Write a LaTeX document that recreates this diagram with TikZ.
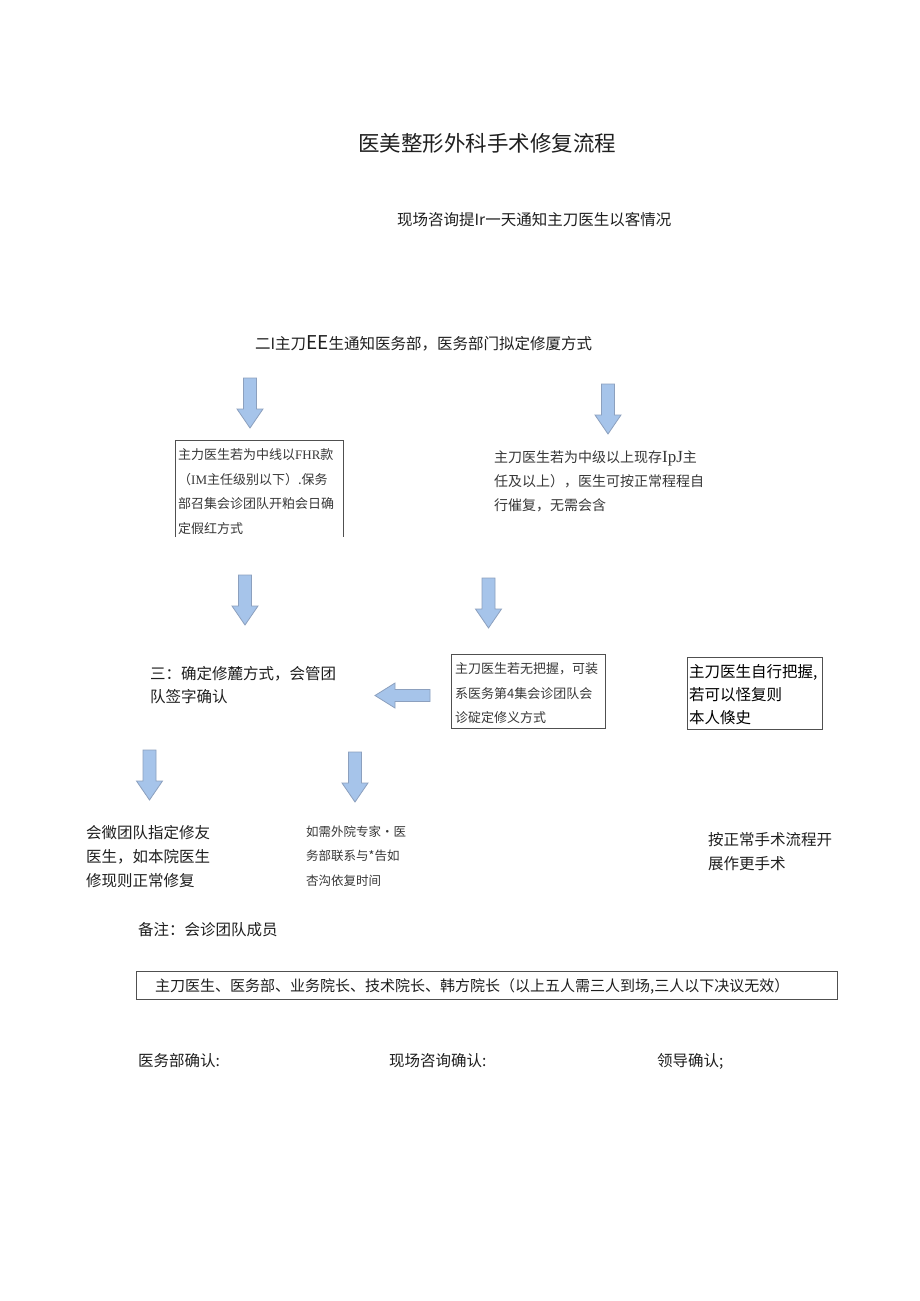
\documentclass[tikz,border=0pt]{standalone}
\usepackage{fontspec}
\setmainfont{Noto Sans CJK SC}
\newfontfamily\latinserif{Liberation Serif}
\usetikzlibrary{positioning}
\definecolor{arrowblue}{RGB}{166,196,234}
\definecolor{arrowedge}{RGB}{140,160,190}
\definecolor{boxline}{RGB}{80,80,80}
\definecolor{softtext}{RGB}{55,55,55}
\tikzset{
	bigtext/.style={inner sep=0pt, anchor=north west, text=black!88, align=left, font=\fontsize{15.5}{23.5}\selectfont},
	smalltext/.style={inner sep=0pt, anchor=north west, text=softtext, align=left, font=\fontsize{13}{24.5}\selectfont},
	downblk/.pic={\draw[arrowedge, fill=arrowblue, line width=0.8pt] (-6.5,0) -- (-6.5,31) -- (-13,31) -- (0,50) -- (13,31) -- (6.5,31) -- (6.5,0) -- cycle;},
	leftblk/.pic={\draw[arrowedge, fill=arrowblue, line width=0.8pt] (0,-6) -- (-35,-6) -- (-35,-12.5) -- (-55,0) -- (-35,12.5) -- (-35,6) -- (0,6) -- cycle;},
}

\begin{document}
\begin{tikzpicture}[x=1pt, y=-1pt]
			%%%%% START %%%%%
			
			\useasboundingbox[fill=white] (0,0) rectangle (920,1301);
			
			\node[bigtext, anchor=west, font=\fontsize{21.5}{26}\selectfont] (title) at (358,143) {医美整形外科手术修复流程};
			
			\node[bigtext, anchor=west] (consult) at (397,220) {现场咨询提Ir一天通知主刀医生以客情况};
			\node[bigtext, anchor=west] (notify) at (255,343) {二I主刀{\fontsize{19}{23}\selectfont EE}生通知医务部，医务部门拟定修厦方式};
			
			\pic at (250,378) {downblk};
			\pic at (608,384) {downblk};
			
			\draw[boxline, line width=0.7pt] (175,537) -- (175,440) -- (343,440) -- (343,537);
			\node[smalltext] (lowcase) at (178,448.5) {主力医生若为中线以{\latinserif FHR}款\\（{\latinserif IM}主任级别以下）.保务\\部召集会诊团队开粕会日确\\定假红方式};
			\node[smalltext, font=\fontsize{14}{24}\selectfont] (highcase) at (494,451) {主刀医生若为中级以上现存{\latinserif\fontsize{17}{24}\selectfont IpJ}主\\任及以上），医生可按正常程程自\\行催复，无需会含};
			
			\pic at (245,575) {downblk};
			\pic at (488.5,578) {downblk};
			
			\node[bigtext, font=\fontsize{15.5}{23}\selectfont] (decide) at (150,666.5) {三：确定修麓方式，会管团\\队签字确认};
			\pic at (430,695.5) {leftblk};
			
			\draw[boxline, line width=0.7pt] (451,654) rectangle (605,728);
			\node[smalltext] (unsure) at (455,662.5) {主刀医生若无把握，可装\\系医务第4集会诊团队会\\诊碇定修义方式};
			
			\draw[boxline, line width=0.7pt] (687,657) rectangle (822,729);
			\node[bigtext, text=black, font=\fontsize{15.5}{23}\selectfont] (self) at (689,664.5) {主刀医生自行把握,\\若可以怪复则\\本人倏史};
			
			\pic at (149.5,750) {downblk};
			\pic at (355,752) {downblk};
			
			\node[bigtext, font=\fontsize{15.5}{24}\selectfont] (team) at (86,825.5) {会徵团队指定修友\\医生，如本院医生\\修现则正常修复};
			\node[smalltext, font=\fontsize{12.5}{24.5}\selectfont] (outside) at (306,825.5) {如需外院专家•医\\务部联系与*告如\\杏沟依复时间};
			\node[bigtext, font=\fontsize{15.5}{24}\selectfont] (normal) at (708,832.5) {按正常手术流程开\\展作更手术};
			
			\node[bigtext, anchor=west] (note) at (138,930) {备注：会诊团队成员};
			
			\draw[boxline, line width=0.7pt] (136,971) rectangle (837,999);
			\node[bigtext, anchor=west, font=\fontsize{15}{20}\selectfont] (members) at (155,986) {主刀医生、医务部、业务院长、技术院长、韩方院长（以上五人需三人到场,三人以下决议无效）};
			
			\node[bigtext, anchor=west] (signmed) at (138,1061) {医务部确认:};
			\node[bigtext, anchor=west] (signsite) at (389,1061) {现场咨询确认:};
			\node[bigtext, anchor=west] (signlead) at (657,1061) {领导确认;};
			
			%%%%% END %%%%%
\end{tikzpicture}
\end{document}
